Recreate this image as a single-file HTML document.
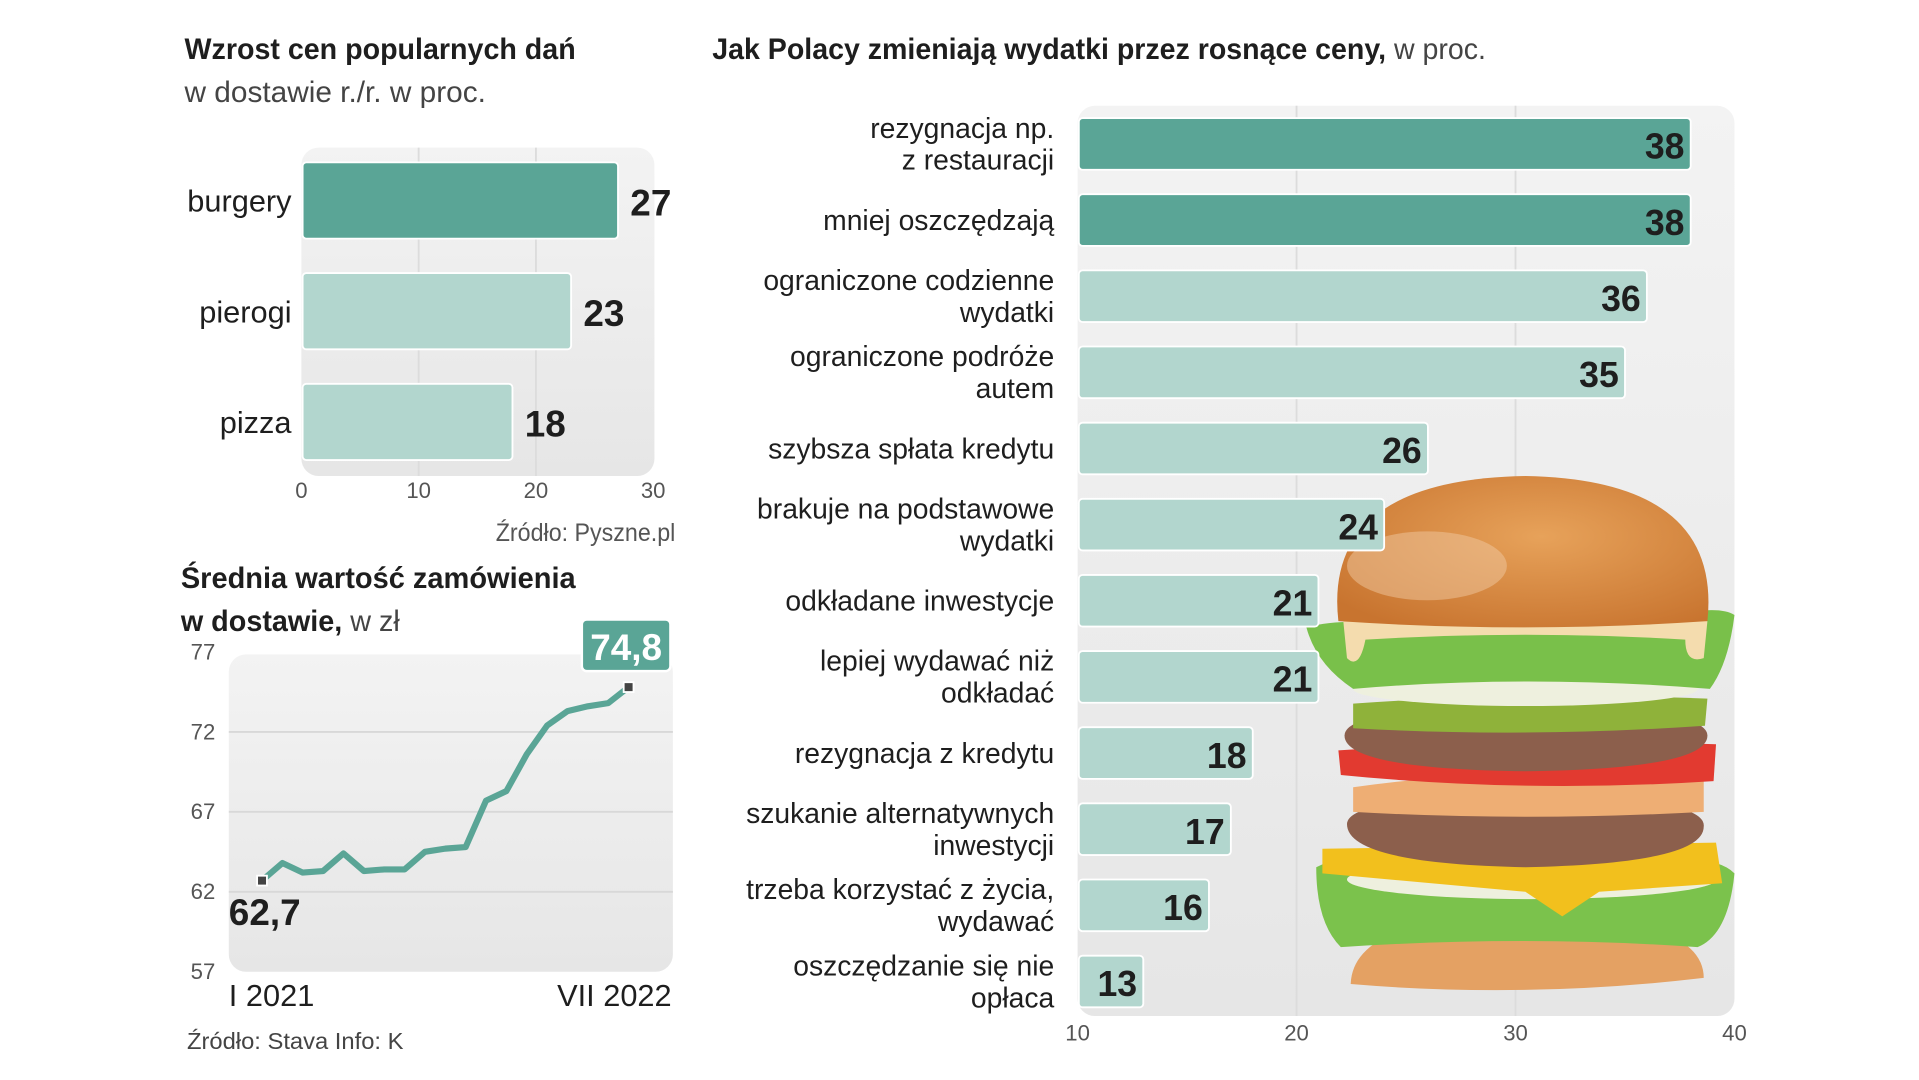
<!DOCTYPE html>
<html><head><meta charset="utf-8"><style>
html,body{margin:0;padding:0;background:#fff;}
svg{display:block;font-family:"Liberation Sans Narrow","Liberation Sans",sans-serif;}
</style></head><body>
<svg id="c" width="1919" height="1080" viewBox="0 0 1560 878" preserveAspectRatio="none" xmlns="http://www.w3.org/2000/svg">
<defs>
<linearGradient id="pg" x1="0" y1="0" x2="0" y2="1"><stop offset="0" stop-color="#f3f3f3"/><stop offset="1" stop-color="#e6e6e6"/></linearGradient>
<radialGradient id="bun" cx="0.55" cy="0.4" r="0.7"><stop offset="0" stop-color="#e7a25a"/><stop offset="1" stop-color="#c8742f"/></radialGradient>
</defs>
<g id="left"></g><g id="line"></g><g id="right"></g>
</svg>
<script>
const NS='http://www.w3.org/2000/svg';
function el(p,t,a,txt){const e=document.createElementNS(NS,t);for(const k in a)e.setAttribute(k,a[k]);if(txt!==undefined)e.textContent=txt;p.appendChild(e);return e;}

// ---- data ----
const dishCats=['burgery','pierogi','pizza'];
const dishVals=[27,23,18];
const dishTicks=[0,10,20,30];
const lineVals=[62.7,63.8,63.2,63.3,64.4,63.3,63.4,63.4,64.5,64.7,64.8,67.7,68.3,70.6,72.4,73.3,73.6,73.8,74.8];
const lineTicks=[77,72,67,62,57];
const spendCats=[['rezygnacja np.','z restauracji'],['mniej oszczędzają'],['ograniczone codzienne','wydatki'],['ograniczone podróże','autem'],['szybsza spłata kredytu'],['brakuje na podstawowe','wydatki'],['odkładane inwestycje'],['lepiej wydawać niż','odkładać'],['rezygnacja z kredytu'],['szukanie alternatywnych','inwestycji'],['trzeba korzystać z życia,','wydawać'],['oszczędzanie się nie','opłaca']];
const spendVals=[38,38,36,35,26,24,21,21,18,17,16,13];
const spendTicks=[10,20,30,40];

const DARK='#5aa596',LIGHT='#b2d6ce',TXT='#1e1e1e';

// ---- left bar chart ----
const L=document.getElementById('left');
let t=el(L,'text',{x:150,y:48,'font-size':24,'font-weight':'bold',fill:TXT,textLength:318,lengthAdjust:'spacingAndGlyphs'},'Wzrost cen popularnych dań');

t=el(L,'text',{x:150,y:83,'font-size':24,fill:'#444',textLength:245,lengthAdjust:'spacingAndGlyphs'},'w dostawie r./r. w proc.');

const lx=v=>245+v*(286/30);
let r=el(L,'rect',{x:245,y:120,width:287,height:267,rx:14,fill:'url(#pg)'});

[10,20].forEach(v=>{const g=el(L,'line',{x1:lx(v),x2:lx(v),y1:120,y2:387,stroke:'#dcdcdc','stroke-width':1.5});});
dishCats.forEach((c,i)=>{
  const y=132+i*90;
  const b=el(L,'rect',{x:246,y:y,width:lx(dishVals[i])-246,height:62,rx:3,fill:i===0?DARK:LIGHT,stroke:'#fff','stroke-width':1.5});
  
  const l=el(L,'text',{x:237,y:y+40,'font-size':25,'text-anchor':'end',fill:TXT},c);
  
  const v=el(L,'text',{x:lx(dishVals[i])+10,y:y+43,'font-size':30,'font-weight':'bold',fill:TXT},String(dishVals[i]));
  
});
dishTicks.forEach(v=>{const k=el(L,'text',{x:lx(v),y:405,'font-size':18,'text-anchor':'middle',fill:'#555'},String(v));});
t=el(L,'text',{x:549,y:440,'font-size':20,'text-anchor':'end',fill:'#555',textLength:146,lengthAdjust:'spacingAndGlyphs'},'Źródło: Pyszne.pl');


// ---- line chart ----
const G=document.getElementById('line');
t=el(G,'text',{x:147,y:478,'font-size':24,'font-weight':'bold',fill:TXT,textLength:321,lengthAdjust:'spacingAndGlyphs'},'Średnia wartość zamówienia');

t=el(G,'text',{x:147,y:513,'font-size':24,fill:TXT,textLength:178,lengthAdjust:'spacingAndGlyphs'});

el(t,'tspan',{'font-weight':'bold'},'w dostawie,');el(t,'tspan',{fill:'#444'},' w zł');
const gy=v=>530+(77-v)*13;
const gx=i=>213+i*(298/(lineVals.length-1));
r=el(G,'rect',{x:186,y:532,width:361,height:258,rx:14,fill:'url(#pg)'});

lineTicks.forEach(v=>{
  if(v<77&&v>57){const g=el(G,'line',{x1:186,x2:547,y1:gy(v),y2:gy(v),stroke:'#d8d8d8','stroke-width':1.5});}
  const k=el(G,'text',{x:155,y:gy(v)+6,'font-size':18,fill:'#555'},String(v));
});
const p=el(G,'polyline',{points:lineVals.map((v,i)=>gx(i)+','+gy(v)).join(' '),fill:'none',stroke:DARK,'stroke-width':5,'stroke-linejoin':'round'});

[0,lineVals.length-1].forEach(i=>{const m=el(G,'rect',{x:gx(i)-4,y:gy(lineVals[i])-4,width:8,height:8,fill:'#444',stroke:'#fff','stroke-width':1.5});});
t=el(G,'text',{x:186,y:752,'font-size':30,'font-weight':'bold',fill:TXT},lineVals[0].toString().replace('.',','));

const last=lineVals[lineVals.length-1];
r=el(G,'rect',{x:gx(lineVals.length-1)-38,y:gy(last)-55,width:72,height:42,rx:4,fill:DARK,stroke:'#fff','stroke-width':2});

t=el(G,'text',{x:gx(lineVals.length-1)-2,y:gy(last)-22,'font-size':30,'font-weight':'bold','text-anchor':'middle',fill:'#fff'},last.toString().replace('.',','));

t=el(G,'text',{x:186,y:818,'font-size':25,fill:TXT},'I 2021');
t=el(G,'text',{x:546,y:818,'font-size':25,'text-anchor':'end',fill:TXT},'VII 2022');
t=el(G,'text',{x:152,y:853,'font-size':19,fill:'#444',textLength:176,lengthAdjust:'spacingAndGlyphs'},'Źródło: Stava  Info: K');

// ---- right bar chart ----
const R=document.getElementById('right');
t=el(R,'text',{x:579,y:48,'font-size':24,fill:TXT,textLength:629,lengthAdjust:'spacingAndGlyphs'});
el(t,'tspan',{'font-weight':'bold'},'Jak Polacy zmieniają wydatki przez rosnące ceny,');el(t,'tspan',{fill:'#444'},' w proc.');
const rx=v=>876+(v-10)*(534/30);
r=el(R,'rect',{x:876,y:86,width:534,height:740,rx:14,fill:'url(#pg)'});

[20,30].forEach(v=>{const g=el(R,'line',{x1:rx(v),x2:rx(v),y1:86,y2:826,stroke:'#dcdcdc','stroke-width':1.5});});

// burger illustration (behind bars)
const B=el(R,'g',{});
el(B,'path',{d:'M1098 800 Q1100 745 1240 742 Q1385 745 1385 795 Q1240 812 1098 800Z',fill:'#e4a163'});
el(B,'path',{d:'M1070 705 Q1100 690 1140 700 Q1240 710 1350 700 Q1395 695 1410 710 Q1405 760 1380 770 Q1240 760 1090 770 Q1070 750 1070 705Z',fill:'#7bc24c'});
el(B,'ellipse',{cx:1245,cy:715,rx:150,ry:16,fill:'#eef0de'});
el(B,'path',{d:'M1075 690 L1395 685 L1400 718 L1300 725 L1270 745 L1240 725 L1075 710Z',fill:'#f2c01d'});
el(B,'path',{d:'M1095 670 Q1095 648 1240 646 Q1388 648 1385 672 Q1385 702 1240 705 Q1095 702 1095 670Z',fill:'#8c5f4c'});
el(B,'path',{d:'M1100 640 Q1240 620 1385 635 L1385 660 Q1240 668 1100 660Z',fill:'#eeae74'});
el(B,'path',{d:'M1088 610 Q1240 600 1395 605 L1393 635 Q1240 645 1090 630Z',fill:'#e23a30'});
el(B,'path',{d:'M1093 598 Q1093 575 1240 573 Q1388 575 1388 598 Q1388 625 1240 627 Q1093 625 1093 598Z',fill:'#8c5f4c'});
el(B,'path',{d:'M1100 572 Q1240 562 1388 568 L1386 590 Q1240 600 1100 592Z',fill:'#8fb23a'});
el(B,'ellipse',{cx:1240,cy:560,rx:140,ry:14,fill:'#eef0de'});
el(B,'path',{d:'M1062 510 Q1100 500 1160 512 Q1240 520 1340 505 Q1395 490 1410 500 Q1405 540 1390 560 Q1240 548 1100 560 Q1070 540 1062 510Z',fill:'#79c04a'});
el(B,'path',{d:'M1092 505 Q1240 495 1388 505 L1385 535 Q1370 540 1370 520 Q1240 512 1110 520 Q1105 545 1095 535Z',fill:'#f4dcae'});
el(B,'path',{d:'M1088 505 Q1075 390 1240 387 Q1400 390 1388 505 Q1240 515 1088 505Z',fill:'url(#bun)'});
el(B,'ellipse',{cx:1160,cy:460,rx:65,ry:28,fill:'#f0c8a0',opacity:0.5});

spendCats.forEach((c,i)=>{
  const y=96+i*61.9;
  const b=el(R,'rect',{x:877,y:y,width:rx(spendVals[i])-877,height:42,rx:3,fill:i<2?DARK:LIGHT,stroke:'#fff','stroke-width':1.5});
  
  const l=el(R,'text',{'font-size':23,'text-anchor':'end',fill:TXT});
  
  if(c.length===1){el(l,'tspan',{x:857,y:y+29},c[0]);}
  else{el(l,'tspan',{x:857,y:y+16},c[0]);el(l,'tspan',{x:857,y:y+42},c[1]);}
  const v=el(R,'text',{x:rx(spendVals[i])-5,y:y+33,'font-size':29,'font-weight':'bold','text-anchor':'end',fill:TXT},String(spendVals[i]));
  
});
spendTicks.forEach(v=>{const k=el(R,'text',{x:rx(v),y:846,'font-size':18,'text-anchor':'middle',fill:'#555'},String(v));});
</script>
</body></html>
